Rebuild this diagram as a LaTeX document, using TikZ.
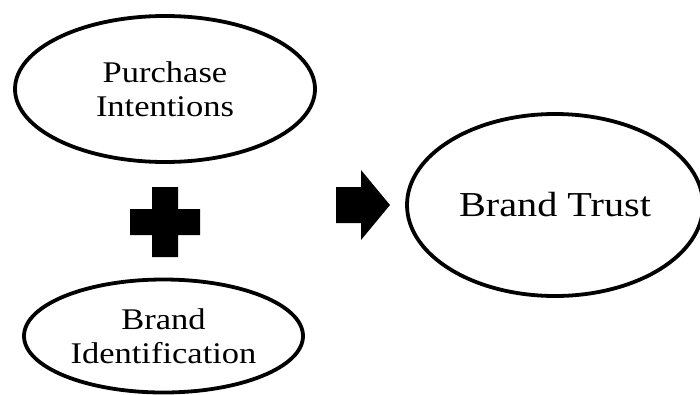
\documentclass[tikz,border=0pt]{standalone}
\usepackage{fontspec}
\setmainfont{Liberation Serif}[FakeStretch=1.15]
\usetikzlibrary{shapes.geometric}
\begin{document}
\begin{tikzpicture}[x=1pt,y=-1pt,
  oval/.style={draw=black, line width=3.8pt, ellipse, inner sep=0pt, align=center, fill=white},
  small/.style={font=\fontsize{30}{34}\selectfont},
  big/.style={font=\fontsize{35}{40}\selectfont},
  symb/.style={fill=black}]
\useasboundingbox (0,0) rectangle (700,394);
\node[oval, small, minimum width=300pt, minimum height=146pt] (pi) at (165,89) {Purchase\\Intentions};
\node[oval, small, minimum width=279pt, minimum height=113pt] (bi) at (163.5,336) {Brand\\Identification};
\node[oval, big, minimum width=296pt, minimum height=182pt] (bt) at (555,205) {Brand Trust};
\fill[symb] (152,187) -- (178,187) -- (178,209) -- (200,209) -- (200,235) -- (178,235) -- (178,257)
  -- (152,257) -- (152,235) -- (130,235) -- (130,209) -- (152,209) -- cycle;
\fill[symb] (336,187) -- (361,187) -- (361,170) -- (390,205) -- (361,240) -- (361,223) -- (336,223) -- cycle;
\end{tikzpicture}
\end{document}
